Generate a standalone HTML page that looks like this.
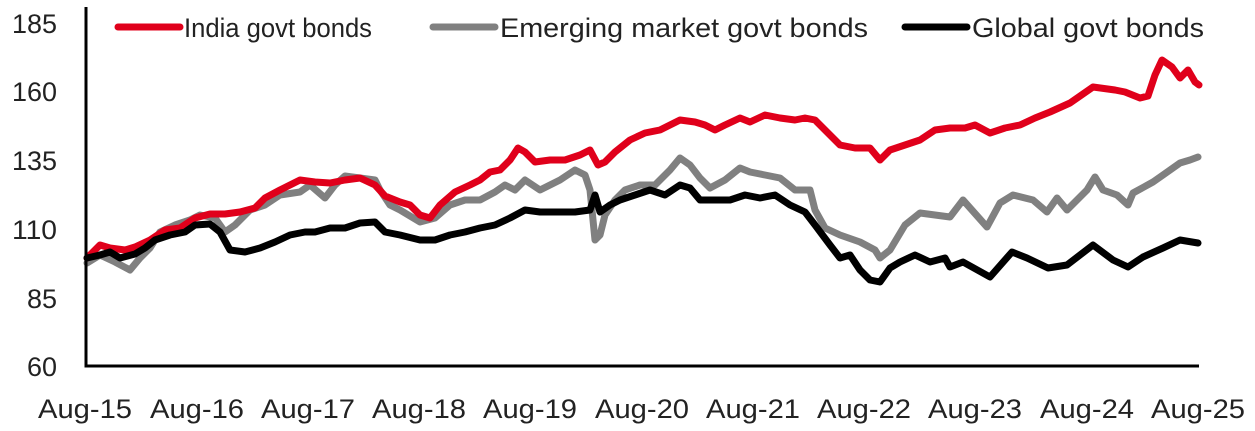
<!DOCTYPE html>
<html><head><style>body{margin:0;background:#fff}svg{display:block}text{font-family:"Liberation Sans",sans-serif;font-size:27px;fill:#222}</style></head>
<body>
<svg width="1255" height="431" viewBox="0 0 1255 431">
<g text-anchor="end">
<text x="57" y="33" textLength="45" lengthAdjust="spacingAndGlyphs">185</text><text x="57" y="101" textLength="45" lengthAdjust="spacingAndGlyphs">160</text><text x="57" y="170" textLength="45" lengthAdjust="spacingAndGlyphs">135</text><text x="57" y="239" textLength="45" lengthAdjust="spacingAndGlyphs">110</text><text x="57" y="308" textLength="30" lengthAdjust="spacingAndGlyphs">85</text><text x="57" y="376" textLength="30" lengthAdjust="spacingAndGlyphs">60</text>
</g>
<g>
<text x="38" y="418" textLength="94" lengthAdjust="spacingAndGlyphs">Aug-15</text><text x="150" y="418" textLength="94" lengthAdjust="spacingAndGlyphs">Aug-16</text><text x="261" y="418" textLength="94" lengthAdjust="spacingAndGlyphs">Aug-17</text><text x="372" y="418" textLength="94" lengthAdjust="spacingAndGlyphs">Aug-18</text><text x="483" y="418" textLength="94" lengthAdjust="spacingAndGlyphs">Aug-19</text><text x="595" y="418" textLength="94" lengthAdjust="spacingAndGlyphs">Aug-20</text><text x="706" y="418" textLength="94" lengthAdjust="spacingAndGlyphs">Aug-21</text><text x="817" y="418" textLength="94" lengthAdjust="spacingAndGlyphs">Aug-22</text><text x="928" y="418" textLength="94" lengthAdjust="spacingAndGlyphs">Aug-23</text><text x="1040" y="418" textLength="94" lengthAdjust="spacingAndGlyphs">Aug-24</text><text x="1151" y="418" textLength="94" lengthAdjust="spacingAndGlyphs">Aug-25</text>
</g>
<g fill="none" stroke-width="7" stroke-linejoin="round" stroke-linecap="round">
<polyline stroke="#808080" points="87,263 100,255 115,262 130,270 140,258 150,248 160,232 175,225 190,220 200,215 215,218 225,232 235,225 250,210 265,205 280,195 300,192 310,185 325,198 335,185 345,176 360,178 375,180 380,190 390,205 400,210 420,222 435,218 450,205 465,200 480,200 495,192 505,185 515,190 525,180 540,190 560,180 575,170 585,175 590,190 595,240 600,235 605,215 615,200 625,190 640,185 655,185 670,170 680,158 690,165 700,178 710,188 725,180 740,168 750,172 765,175 780,178 795,190 810,190 815,210 825,228 840,235 860,242 875,250 880,258 890,250 905,225 920,213 935,215 950,217 963,200 987,227 1000,203 1013,195 1033,200 1047,212 1057,198 1067,210 1087,190 1095,177 1103,190 1117,195 1128,205 1133,193 1153,182 1163,175 1180,163 1190,160 1198,157"/>
<polyline stroke="#e0001b" points="87,258 100,245 110,248 125,250 135,247 150,240 165,230 180,228 195,218 210,214 225,214 240,212 255,208 265,198 280,190 290,185 300,180 315,182 330,183 345,180 360,178 375,185 385,196 400,202 410,205 420,215 430,218 440,205 455,192 470,185 480,180 490,172 500,170 510,160 518,148 525,152 535,162 550,160 565,160 580,155 590,150 598,165 605,162 615,152 630,140 645,133 660,130 670,125 680,120 695,122 705,125 715,130 725,125 740,118 750,122 765,115 780,118 795,120 805,118 815,120 825,130 840,145 855,148 870,148 880,160 890,150 905,145 920,140 935,130 950,128 965,128 975,125 990,133 1005,128 1020,125 1035,118 1050,112 1070,103 1093,87 1115,90 1125,92 1140,98 1148,96 1155,75 1162,60 1172,67 1180,78 1188,70 1195,82 1199,85"/>
<polyline stroke="#000" points="87,258 100,255 110,252 120,258 135,254 145,248 155,240 170,235 185,232 195,225 210,224 220,232 230,250 245,252 260,248 275,242 290,235 305,232 315,232 330,228 345,228 360,223 375,222 385,232 400,235 420,240 435,240 450,235 465,232 480,228 495,225 510,218 525,210 540,212 560,212 575,212 590,210 595,195 600,212 610,205 620,200 635,195 650,190 665,195 680,185 690,188 700,200 715,200 730,200 745,195 760,198 775,195 790,205 805,212 815,225 830,245 840,258 850,255 860,270 870,280 880,282 890,268 900,262 915,255 930,262 945,258 950,267 963,262 990,277 1012,252 1027,258 1048,268 1067,265 1093,245 1113,260 1128,267 1143,257 1163,248 1180,240 1198,243"/>
<line x1="118" y1="27" x2="180" y2="27" stroke="#e0001b"/>
<line x1="433" y1="27" x2="495" y2="27" stroke="#808080"/>
<line x1="905" y1="27" x2="967" y2="27" stroke="#000"/>
</g>
<text x="184" y="37" textLength="188" lengthAdjust="spacingAndGlyphs">India govt bonds</text>
<text x="500" y="37" textLength="368" lengthAdjust="spacingAndGlyphs">Emerging market govt bonds</text>
<text x="972" y="37" textLength="232" lengthAdjust="spacingAndGlyphs">Global govt bonds</text>
<polyline points="86,7 86,366 1199,366" fill="none" stroke="#000" stroke-width="3"/>
</svg>
</body></html>
